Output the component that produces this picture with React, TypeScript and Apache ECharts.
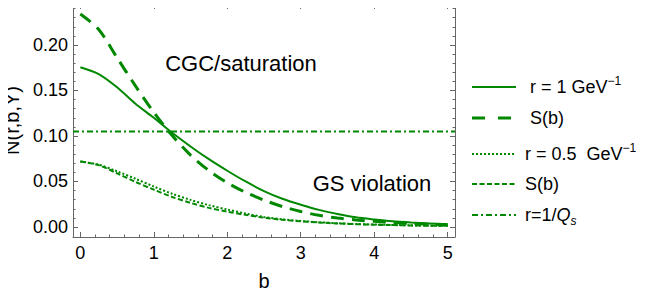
import React, { useEffect, useRef } from "react";
import * as echarts from "echarts";

// ---- data ----
const bValues = [0, 0.25, 0.5, 0.75, 1, 1.25, 1.5, 1.75, 2, 2.25, 2.5, 2.75, 3, 3.25, 3.5, 3.75, 4, 4.25, 4.5, 4.75, 5];
const nR1 = [0.1755, 0.168, 0.1535, 0.1355, 0.12, 0.1035, 0.0885, 0.0745, 0.0618, 0.05, 0.0395, 0.031, 0.0245, 0.0188, 0.0143, 0.0106, 0.0082, 0.0062, 0.0049, 0.0039, 0.003];
const sR1 = [0.234, 0.217, 0.186, 0.155, 0.126, 0.1005, 0.079, 0.062, 0.0485, 0.038, 0.0295, 0.0225, 0.017, 0.0128, 0.0098, 0.0078, 0.0062, 0.0049, 0.0039, 0.003, 0.0024];
const nR05 = [0.072, 0.0685, 0.0612, 0.053, 0.0445, 0.0365, 0.0298, 0.024, 0.0192, 0.0148, 0.011, 0.0085, 0.0066, 0.0052, 0.0041, 0.0033, 0.0027, 0.0022, 0.0018, 0.0015, 0.0013];
const sR05 = [0.072, 0.068, 0.059, 0.0495, 0.041, 0.033, 0.0265, 0.021, 0.0168, 0.0133, 0.0102, 0.0079, 0.0062, 0.0049, 0.0039, 0.0031, 0.0025, 0.0021, 0.0017, 0.0014, 0.0012];
const qsLevel = 0.105;

const xMajor = [0, 1, 2, 3, 4, 5];
const xMinor = [0, 0.2, 0.4, 0.6, 0.8, 1, 1.2, 1.4, 1.6, 1.8, 2, 2.2, 2.4, 2.6, 2.8, 3, 3.2, 3.4, 3.6, 3.8, 4, 4.2, 4.4, 4.6, 4.8, 5];
const yMajor = [0, 0.05, 0.1, 0.15, 0.2];
const yMinor = [0, 0.01, 0.02, 0.03, 0.04, 0.05, 0.06, 0.07, 0.08, 0.09, 0.1, 0.11, 0.12, 0.13, 0.14, 0.15, 0.16, 0.17, 0.18, 0.19, 0.2, 0.21, 0.22, 0.23, 0.24];

const X_MIN = -0.1;
const X_MAX = 5.1;
const Y_MIN = -0.011;
const Y_MAX = 0.245;

const GREEN = "#008800";
const FRAME = "#666666";
const FONT = "'Liberation Sans', Arial, sans-serif";

const pairs = (ys: number[]) => bValues.map((b, i) => [b, ys[i]]);

export default function App() {
  const ref = useRef<HTMLDivElement>(null);
  useEffect(() => {
    if (!ref.current) return;
    const chart = echarts.init(ref.current, null, { renderer: "svg" });

    const xAxisBase = (position: string, values: number[], len: number, showLine: boolean, labels: boolean) => ({
      type: "value",
      gridIndex: 0,
      min: X_MIN,
      max: X_MAX,
      position,
      axisLine: { show: showLine, onZero: false, lineStyle: { color: FRAME, width: 1 } },
      axisTick: { show: true, inside: true, length: len, customValues: values, lineStyle: { color: FRAME, width: 1 } },
      axisLabel: labels
        ? { show: true, customValues: values, fontSize: 18, color: "#000", margin: 7, fontFamily: FONT }
        : { show: false },
      splitLine: { show: false },
    });
    const yAxisBase = (position: string, values: number[], len: number, showLine: boolean, labels: boolean) => ({
      type: "value",
      gridIndex: 0,
      min: Y_MIN,
      max: Y_MAX,
      position,
      axisLine: { show: showLine, onZero: false, lineStyle: { color: FRAME, width: 1 } },
      axisTick: { show: true, inside: true, length: len, customValues: values, lineStyle: { color: FRAME, width: 1 } },
      axisLabel: labels
        ? {
            show: true,
            customValues: values,
            fontSize: 18,
            color: "#000",
            margin: 5,
            fontFamily: FONT,
            formatter: (v: number) => v.toFixed(2),
          }
        : { show: false },
      splitLine: { show: false },
    });

    const xMain: any = xAxisBase("bottom", xMajor, 5, true, true);
    xMain.name = "b";
    xMain.nameLocation = "middle";
    xMain.nameGap = 34;
    xMain.nameTextStyle = { fontSize: 20, color: "#000", fontFamily: FONT };
    const yMain: any = yAxisBase("left", yMajor, 5, true, true);
    yMain.name = "N(r,b,Y)";
    yMain.nameLocation = "middle";
    yMain.nameGap = 50;
    yMain.nameTextStyle = { fontSize: 20, color: "#000", fontFamily: FONT };

    const legendItems = [
      { y: 87, dash: null as number[] | null, width: 2, textX: 530, rich: "{a|r = 1 GeV}{sup|−1}" },
      { y: 118, dash: [13, 13], width: 3, textX: 530, rich: "{a|S(b)}" },
      { y: 154, dash: [2, 2], width: 2, textX: 525, rich: "{a|r = 0.5  GeV}{sup|−1}" },
      { y: 184, dash: [5, 2.5], width: 2, textX: 525, rich: "{a|S(b)}" },
      { y: 215, dash: [6, 3, 2, 3], width: 2, textX: 525, rich: "{a|r=1/}{q|Q}{sub|s}" },
    ];
    const richStyles = {
      a: { fontSize: 18, fontFamily: FONT, color: "#000", lineHeight: 24 },
      q: { fontSize: 18, fontFamily: FONT, color: "#000", fontStyle: "italic", lineHeight: 24 },
      sup: { fontSize: 12, fontFamily: FONT, color: "#000", verticalAlign: "top", lineHeight: 12 },
      sub: { fontSize: 12, fontFamily: FONT, color: "#000", fontStyle: "italic", verticalAlign: "bottom", lineHeight: 14 },
    };
    const graphic: any[] = [];
    legendItems.forEach((it) => {
      graphic.push({
        type: "line",
        shape: { x1: 472, y1: it.y, x2: 516, y2: it.y },
        style: { stroke: GREEN, lineWidth: it.width, lineDash: it.dash || undefined },
        silent: true,
      });
      graphic.push({
        type: "text",
        x: it.textX,
        y: it.y,
        style: { text: it.rich, rich: richStyles, verticalAlign: "middle", align: "left" },
        silent: true,
      });
    });
    graphic.push({
      type: "text",
      x: 241,
      y: 63,
      style: { text: "CGC/saturation", fontSize: 22, fontFamily: FONT, fill: "#000", align: "center", verticalAlign: "middle" },
      silent: true,
    });
    graphic.push({
      type: "text",
      x: 372,
      y: 183,
      style: { text: "GS violation", fontSize: 22, fontFamily: FONT, fill: "#000", align: "center", verticalAlign: "middle" },
      silent: true,
    });

    const option: any = {
      animation: false,
      backgroundColor: "#fff",
      grid: { left: 73, top: 4, right: 199, bottom: 60, containLabel: false, outerBoundsMode: "none" },
      xAxis: [
        xMain,
        xAxisBase("bottom", xMinor, 2.5, false, false),
        xAxisBase("top", xMajor, 5, true, false),
        xAxisBase("top", xMinor, 2.5, false, false),
      ],
      yAxis: [
        yMain,
        yAxisBase("left", yMinor, 2.5, false, false),
        yAxisBase("right", yMajor, 5, true, false),
        yAxisBase("right", yMinor, 2.5, false, false),
      ],
      series: [
        {
          name: "r = 1 GeV-1",
          type: "line",
          data: pairs(nR1),
          smooth: 0.3,
          showSymbol: false,
          lineStyle: { color: GREEN, width: 2, type: "solid" },
        },
        {
          name: "S(b) r=1",
          type: "line",
          data: pairs(sR1),
          smooth: 0.3,
          showSymbol: false,
          lineStyle: { color: GREEN, width: 3, type: [13, 8] },
        },
        {
          name: "r = 0.5 GeV-1",
          type: "line",
          data: pairs(nR05),
          smooth: 0.3,
          showSymbol: false,
          lineStyle: { color: GREEN, width: 2, type: [2, 2] },
        },
        {
          name: "S(b) r=0.5",
          type: "line",
          data: pairs(sR05),
          smooth: 0.3,
          showSymbol: false,
          lineStyle: { color: GREEN, width: 2, type: [5, 2.5] },
        },
        {
          name: "r=1/Qs",
          type: "line",
          data: [
            [X_MIN, qsLevel],
            [X_MAX, qsLevel],
          ],
          showSymbol: false,
          lineStyle: { color: GREEN, width: 2, type: [6, 3, 2, 3] },
        },
      ],
      graphic,
    };
    chart.setOption(option);
    return () => chart.dispose();
  }, []);
  return <div ref={ref} style={{ width: 654, height: 297, margin: -8 }} />;
}
